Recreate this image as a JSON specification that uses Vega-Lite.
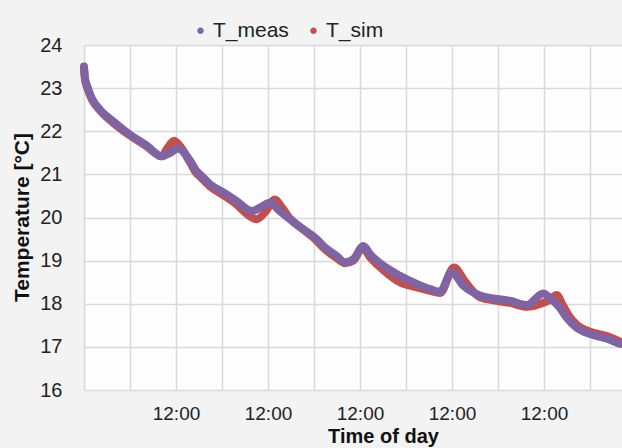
{
  "$schema": "https://vega.github.io/schema/vega-lite/v6.json",
  "width": 538,
  "height": 345,
  "autosize": {"type": "none"},
  "padding": {"left": 84, "top": 45, "right": 0, "bottom": 58},
  "background": "#f3f3f3",
  "config": {
    "view": {"fill": "#fdfdfd", "stroke": null},
    "font": "Liberation Sans",
    "axis": {"gridColor": "#d9d9d9", "gridWidth": 1.5, "domain": false, "ticks": false, "labelColor": "#222222", "titleColor": "#111111", "labelFont": "Liberation Sans", "titleFont": "Liberation Sans"},
    "legend": {"labelFont": "Liberation Sans", "labelColor": "#222222"}
  },
  "datasets": {
    "meas": [
      {"h": 0, "T": 23.5, "series": "T_meas"},
      {"h": 0.26, "T": 23.23, "series": "T_meas"},
      {"h": 0.86, "T": 23.04, "series": "T_meas"},
      {"h": 2.0, "T": 22.77, "series": "T_meas"},
      {"h": 4.17, "T": 22.5, "series": "T_meas"},
      {"h": 7.57, "T": 22.23, "series": "T_meas"},
      {"h": 12.0, "T": 21.92, "series": "T_meas"},
      {"h": 16.36, "T": 21.67, "series": "T_meas"},
      {"h": 20.27, "T": 21.42, "series": "T_meas"},
      {"h": 22.43, "T": 21.5, "series": "T_meas"},
      {"h": 24.5, "T": 21.6, "series": "T_meas"},
      {"h": 27.65, "T": 21.32, "series": "T_meas"},
      {"h": 29.4, "T": 21.07, "series": "T_meas"},
      {"h": 30.26, "T": 21.0, "series": "T_meas"},
      {"h": 32.87, "T": 20.77, "series": "T_meas"},
      {"h": 36.34, "T": 20.58, "series": "T_meas"},
      {"h": 39.84, "T": 20.38, "series": "T_meas"},
      {"h": 43.75, "T": 20.15, "series": "T_meas"},
      {"h": 45.9, "T": 20.23, "series": "T_meas"},
      {"h": 48.5, "T": 20.34, "series": "T_meas"},
      {"h": 51.1, "T": 20.15, "series": "T_meas"},
      {"h": 53.7, "T": 19.96, "series": "T_meas"},
      {"h": 57.2, "T": 19.73, "series": "T_meas"},
      {"h": 60.7, "T": 19.5, "series": "T_meas"},
      {"h": 62.4, "T": 19.34, "series": "T_meas"},
      {"h": 65.9, "T": 19.11, "series": "T_meas"},
      {"h": 68.1, "T": 18.96, "series": "T_meas"},
      {"h": 70.25, "T": 19.03, "series": "T_meas"},
      {"h": 72.9, "T": 19.34, "series": "T_meas"},
      {"h": 74.6, "T": 19.15, "series": "T_meas"},
      {"h": 78.1, "T": 18.88, "series": "T_meas"},
      {"h": 82.4, "T": 18.65, "series": "T_meas"},
      {"h": 86.8, "T": 18.46, "series": "T_meas"},
      {"h": 90.3, "T": 18.34, "series": "T_meas"},
      {"h": 92.9, "T": 18.28, "series": "T_meas"},
      {"h": 95.9, "T": 18.73, "series": "T_meas"},
      {"h": 98.95, "T": 18.42, "series": "T_meas"},
      {"h": 103.3, "T": 18.19, "series": "T_meas"},
      {"h": 107.7, "T": 18.11, "series": "T_meas"},
      {"h": 111.1, "T": 18.07, "series": "T_meas"},
      {"h": 115.5, "T": 17.97, "series": "T_meas"},
      {"h": 119.8, "T": 18.24, "series": "T_meas"},
      {"h": 121.6, "T": 18.13, "series": "T_meas"},
      {"h": 124.2, "T": 17.9, "series": "T_meas"},
      {"h": 125.9, "T": 17.68, "series": "T_meas"},
      {"h": 128.5, "T": 17.45, "series": "T_meas"},
      {"h": 132.0, "T": 17.3, "series": "T_meas"},
      {"h": 136.4, "T": 17.19, "series": "T_meas"},
      {"h": 139.8, "T": 17.07, "series": "T_meas"}
    ],
    "sim": [
      {"h": 0, "T": 23.45, "series": "T_sim"},
      {"h": 0.26, "T": 23.2, "series": "T_sim"},
      {"h": 0.86, "T": 23.0, "series": "T_sim"},
      {"h": 2.0, "T": 22.75, "series": "T_sim"},
      {"h": 4.17, "T": 22.48, "series": "T_sim"},
      {"h": 7.57, "T": 22.2, "series": "T_sim"},
      {"h": 12.0, "T": 21.9, "series": "T_sim"},
      {"h": 16.36, "T": 21.65, "series": "T_sim"},
      {"h": 20.27, "T": 21.42, "series": "T_sim"},
      {"h": 21.7, "T": 21.6, "series": "T_sim"},
      {"h": 23.5, "T": 21.78, "series": "T_sim"},
      {"h": 25.5, "T": 21.6, "series": "T_sim"},
      {"h": 27.65, "T": 21.28, "series": "T_sim"},
      {"h": 29.4, "T": 21.02, "series": "T_sim"},
      {"h": 30.26, "T": 20.95, "series": "T_sim"},
      {"h": 32.87, "T": 20.72, "series": "T_sim"},
      {"h": 36.34, "T": 20.52, "series": "T_sim"},
      {"h": 39.84, "T": 20.3, "series": "T_sim"},
      {"h": 43.0, "T": 20.05, "series": "T_sim"},
      {"h": 45.0, "T": 19.96, "series": "T_sim"},
      {"h": 47.5, "T": 20.15, "series": "T_sim"},
      {"h": 49.8, "T": 20.42, "series": "T_sim"},
      {"h": 51.5, "T": 20.25, "series": "T_sim"},
      {"h": 53.7, "T": 19.98, "series": "T_sim"},
      {"h": 57.2, "T": 19.72, "series": "T_sim"},
      {"h": 60.7, "T": 19.46, "series": "T_sim"},
      {"h": 62.4, "T": 19.3, "series": "T_sim"},
      {"h": 65.9, "T": 19.06, "series": "T_sim"},
      {"h": 68.1, "T": 18.94, "series": "T_sim"},
      {"h": 70.25, "T": 19.0, "series": "T_sim"},
      {"h": 72.7, "T": 19.3, "series": "T_sim"},
      {"h": 74.6, "T": 19.08, "series": "T_sim"},
      {"h": 78.1, "T": 18.78, "series": "T_sim"},
      {"h": 82.4, "T": 18.5, "series": "T_sim"},
      {"h": 86.8, "T": 18.38, "series": "T_sim"},
      {"h": 90.3, "T": 18.3, "series": "T_sim"},
      {"h": 92.9, "T": 18.25, "series": "T_sim"},
      {"h": 96.5, "T": 18.84, "series": "T_sim"},
      {"h": 99.5, "T": 18.5, "series": "T_sim"},
      {"h": 103.3, "T": 18.15, "series": "T_sim"},
      {"h": 107.7, "T": 18.07, "series": "T_sim"},
      {"h": 111.1, "T": 18.02, "series": "T_sim"},
      {"h": 115.5, "T": 17.93, "series": "T_sim"},
      {"h": 119.8, "T": 18.02, "series": "T_sim"},
      {"h": 121.6, "T": 18.1, "series": "T_sim"},
      {"h": 123.3, "T": 18.2, "series": "T_sim"},
      {"h": 125.0, "T": 17.95, "series": "T_sim"},
      {"h": 126.5, "T": 17.72, "series": "T_sim"},
      {"h": 128.7, "T": 17.5, "series": "T_sim"},
      {"h": 132.0, "T": 17.35, "series": "T_sim"},
      {"h": 136.4, "T": 17.25, "series": "T_sim"},
      {"h": 139.8, "T": 17.12, "series": "T_sim"}
    ]
  },
  "encoding": {
    "x": {
      "field": "h", "type": "quantitative",
      "scale": {"domain": [0, 140.35], "nice": false, "zero": false},
      "axis": {
        "values": [0, 12, 24, 36, 48, 60, 72, 84, 96, 108, 120, 132],
        "labelExpr": "datum.value > 0 && datum.value % 24 == 0 ? '12:00' : ''",
        "labelFontSize": 19, "labelPadding": 14, "labelOverlap": false, "labelFlush": false,
        "title": "Time of day", "titleFontSize": 20, "titleFontWeight": "bold",
        "titleX": 299, "titleY": 46, "titleBaseline": "middle", "titleAlign": "center"
      }
    },
    "y": {
      "field": "T", "type": "quantitative",
      "scale": {"domain": [16, 24], "nice": false, "zero": false},
      "axis": {
        "values": [16, 17, 18, 19, 20, 21, 22, 23, 24],
        "labelFontSize": 20, "labelPadding": 22,
        "title": "Temperature [°C]", "titleFontSize": 21, "titleFontWeight": "bold",
        "titleX": -62, "titleY": 172, "titleBaseline": "middle", "titleAlign": "center", "titleAngle": 270
      }
    },
    "color": {
      "field": "series", "type": "nominal",
      "scale": {"domain": ["T_meas", "T_sim"], "range": ["#8064a2", "#c0504d"]},
      "legend": {
        "title": null, "orient": "none", "direction": "horizontal",
        "legendX": 106, "legendY": -25,
        "symbolType": "circle", "symbolSize": 12, "symbolStrokeWidth": 3,
        "labelFontSize": 21, "labelOffset": 2, "columnPadding": 14
      }
    }
  },
  "layer": [
    {"data": {"name": "sim"}, "mark": {"type": "line", "strokeWidth": 8, "strokeCap": "round", "strokeJoin": "round", "interpolate": "monotone"}},
    {"data": {"name": "meas"}, "mark": {"type": "line", "strokeWidth": 8, "strokeCap": "round", "strokeJoin": "round", "interpolate": "monotone"}}
  ]
}
